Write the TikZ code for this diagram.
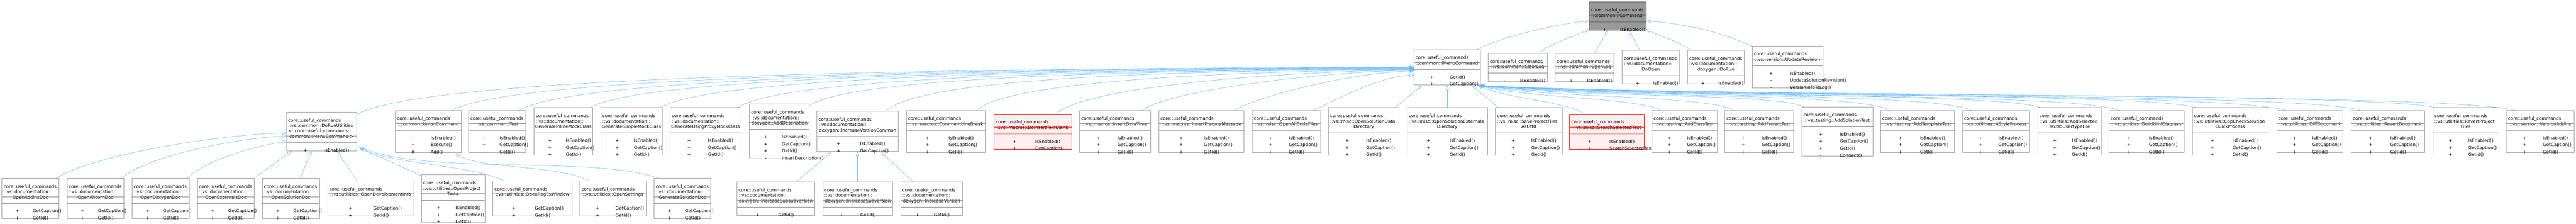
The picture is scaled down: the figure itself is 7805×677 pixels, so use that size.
\documentclass[tikz,border=0pt]{standalone}
\usepackage{fontspec}
\setmainfont{DejaVu Sans}
\usetikzlibrary{arrows.meta,calc}
\pgfdeclarelayer{bg}
\pgfsetlayers{bg,main}
\definecolor{edgeblue}{HTML}{63B8FF}
\definecolor{bordergray}{HTML}{A0A0A0}
\definecolor{sepgray}{HTML}{8C8C8C}
\definecolor{redborder}{HTML}{FF0000}
\definecolor{redfill}{HTML}{FFF0F0}
\definecolor{redsep}{HTML}{FF7A7A}
\definecolor{topfill}{HTML}{999999}
\definecolor{topborder}{HTML}{666666}
\newcommand\clsfont{\fontsize{13.5}{16}\selectfont}
\newlength\mwA
\newlength\mwMax
\tikzset{
  nbox/.style={rectangle, draw=bordergray, fill=white, line width=1.3pt, inner sep=0pt, outer sep=0pt},
  rbox/.style={rectangle, draw=redborder, fill=redfill, line width=1.1pt, inner sep=0pt, outer sep=0pt},
  gbox/.style={rectangle, draw=topborder, fill=topfill, line width=1.1pt, inner sep=0pt, outer sep=0pt},
  nsepA/.style={draw=sepgray, line width=1.1pt},
  nsepB/.style={draw=sepgray, line width=1.3pt},
  rsepA/.style={draw=redborder, line width=1pt},
  rsepB/.style={draw=redsep, line width=1.5pt},
  gsepA/.style={draw=topborder, line width=1pt},
  gsepB/.style={draw=topborder, line width=1pt},
  txt/.style={font=\clsfont, inner sep=0pt, text=black},
  inh/.style={draw=edgeblue, line width=0.9pt, -{Triangle[open,length=13pt,width=10pt]}},
}
% #1 style (n/r/g), #2 name, #3 left, #4 right, #5 top, #6 title lines, #7 methods vis/name
\newcommand\cls[7]{%
  \foreach \ctl [count=\cti] in {#6} {\xdef\nT{\cti}}%
  \foreach \cmv/\cmn [count=\cmi] in {#7} {\xdef\nM{\cmi}}%
  \global\mwMax=0pt
  \foreach \cmv/\cmn in {#7} {\settowidth{\mwA}{\clsfont\cmn}\ifdim\mwA>\mwMax\global\mwMax=\mwA\fi}%
  \pgfmathsetmacro\cW{#4-#3}%
  \pgfmathsetmacro\cH{68.5+16.3*(\nT-1)+21.3*(\nM-1)}%
  \pgfmathsetmacro\cSA{#5+23+16.3*(\nT-1)}%
  \pgfmathsetmacro\cSB{\cSA+21}%
  \pgfmathsetmacro\cMS{(\cW-\mwMax+14.5)/2}%
  \node[#1box, minimum width=\cW pt, minimum height=\cH pt, anchor=north west] (#2) at (#3,#5) {};
  \foreach \ctl [count=\cti] in {#6} {%
    \pgfmathsetmacro\cTY{#5+29.5+16.3*(\cti-1)}%
    \ifnum\cti=\nT\relax
      \node[txt, anchor=base] (#2-t\cti) at ({(#3+#4)/2},\cTY) {\ctl};%
    \else
      \node[txt, anchor=base west] (#2-t\cti) at ({#3+5},\cTY) {\ctl};%
    \fi
  }%
  \foreach \cmv/\cmn [count=\cmi] in {#7} {%
    \pgfmathsetmacro\cMY{\cSB+27.5+21.3*(\cmi-1)}%
    \node[txt, anchor=base] (#2-v\cmi) at ({#3+\cMS/2},\cMY) {\cmv};%
    \node[txt, anchor=base west] (#2-m\cmi) at ({#3+\cMS},\cMY) {\cmn};%
  }%
  \draw[#1sepA] (#2.west |- 0,\cSA) -- (#2.east |- 0,\cSA);
  \draw[#1sepB] (#2.west |- 0,\cSB) -- (#2.east |- 0,\cSB);
}
% edges to the left side of IMenu: #1 start, #2 sx, #3 sy, #4 end y
\newcommand\edgeL[4]{%
  \pgfmathsetmacro\eDD{4284-#2}%
  \pgfmathsetmacro\eFK{min(1,\eDD/1500)}%
  \pgfmathsetmacro\eAx{0.06*\eDD+20}%
  \pgfmathsetmacro\eAy{(#4+15-#3)*\eFK}%
  \pgfmathsetmacro\eBx{-0.35*\eDD}%
  \draw[inh] #1 .. controls +(\eAx,\eAy) and +(\eBx,3) .. (IMenu.west |- 0,#4);%
}
% edges to the bottom right corner of IMenu: #1 start, #2 sx, #3 sy, #4 dx, #5 dy
\newcommand\edgeR[5]{%
  \pgfmathsetmacro\eDD{#2-4486}%
  \pgfmathsetmacro\eFK{min(1,0.3+\eDD/1500)}%
  \pgfmathsetmacro\eAx{-(0.06*\eDD+20)}%
  \pgfmathsetmacro\eAy{(278-#3)*\eFK}%
  \pgfmathsetmacro\eBx{0.25*\eDD}%
  \pgfmathsetmacro\eBy{295-256-#5}%
  \draw[inh] #1 .. controls +(\eAx,\eAy) and +(\eBx,\eBy) .. ($(IMenu.south east)+(#4,#5)$);%
}
\begin{document}
\begin{tikzpicture}[x=1pt,y=-1pt]
\useasboundingbox (0,0) rectangle (7805,677);
% row 1
\cls{g}{IC}{4815}{4988}{6}{core::useful\_commands,::common::ICommand}{+/IsEnabled()}
% row 2
\cls{n}{IMenu}{4284}{4486}{150}{core::useful\_commands,::common::IMenuCommand}{+/GetId(),+/GetCaption()}
\cls{n}{CLG}{4509}{4688}{161}{core::useful\_commands,::vs::common::ClearLog}{+/IsEnabled()}
\cls{n}{OLG}{4712}{4890}{161}{core::useful\_commands,::vs::common::OpenLog}{+/IsEnabled()}
\cls{n}{DOP}{4915}{5088}{152}{core::useful\_commands,::vs::documentation::,DoOpen}{+/IsEnabled()}
\cls{n}{DRN}{5113}{5285}{152}{core::useful\_commands,::vs::documentation::,doxygen::DoRun}{+/IsEnabled()}
\cls{n}{UPR}{5309}{5523}{139}{core::useful\_commands,::vs::version::UpdateRevision}{+/IsEnabled(),-/UpdateSolutionRevision(),-/VersionInfoToLog()}
% row 3
\cls{n}{DRU}{868}{1081}{339}{core::useful\_commands,::vs::common::DoRunUtilities,<::core::useful\_commands::,common::IMenuCommand >}{+/IsEnabled()}
\cls{n}{UC}{1198}{1397}{334}{core::useful\_commands,::common::UnionCommand}{+/IsEnabled(),+/Execute(),\#/Add()}
\cls{n}{TST}{1420}{1593}{334}{core::useful\_commands,::vs::common::Test}{+/IsEnabled(),+/GetCaption(),+/GetId()}
\cls{n}{GIM}{1618}{1796}{326}{core::useful\_commands,::vs::documentation::,GenerateInlineMockClass}{+/IsEnabled(),+/GetCaption(),+/GetId()}
\cls{n}{GSM}{1820}{2006}{326}{core::useful\_commands,::vs::documentation::,GenerateSimpleMockClass}{+/IsEnabled(),+/GetCaption(),+/GetId()}
\cls{n}{GUP}{2030}{2246}{326}{core::useful\_commands,::vs::documentation::,GenerateUsingProxyMockClass}{+/IsEnabled(),+/GetCaption(),+/GetId()}
\cls{n}{ADD}{2271}{2452}{315}{core::useful\_commands,::vs::documentation::,doxygen::AddDescription}{+/IsEnabled(),+/GetCaption(),+/GetId(),-/InsertDescription()}
\cls{n}{IVC}{2475}{2722}{336}{core::useful\_commands,::vs::documentation::,doxygen::IncreaseVersionCommon}{+/IsEnabled(),+/GetCaption()}
\cls{n}{CLB}{2746}{2987}{334}{core::useful\_commands,::vs::macros::CommentLineBreak}{+/IsEnabled(),+/GetCaption(),+/GetId()}
\cls{r}{DIT}{3012}{3247}{345}{core::useful\_commands,::vs::macros::DoInsertTextBlank}{+/IsEnabled(),+/GetCaption()}
\cls{n}{IDT}{3271}{3486}{334}{core::useful\_commands,::vs::macros::InsertDataTime}{+/IsEnabled(),+/GetCaption(),+/GetId()}
\cls{n}{IPM}{3511}{3769}{334}{core::useful\_commands,::vs::macros::InsertPragmaMessage}{+/IsEnabled(),+/GetCaption(),+/GetId()}
\cls{n}{OAC}{3794}{4001}{334}{core::useful\_commands,::vs::misc::OpenAllCodeFiles}{+/IsEnabled(),+/GetCaption(),+/GetId()}
\cls{n}{OSD}{4025}{4239}{326}{core::useful\_commands,::vs::misc::OpenSolutionData,Directory}{+/IsEnabled(),+/GetCaption(),+/GetId()}
\cls{n}{OSE}{4263}{4507}{326}{core::useful\_commands,::vs::misc::OpenSolutionExternals,Directory}{+/IsEnabled(),+/GetCaption(),+/GetId()}
\cls{n}{SPF}{4531}{4733}{326}{core::useful\_commands,::vs::misc::SaveProjectFiles,AsUtf8}{+/IsEnabled(),+/GetCaption(),+/GetId()}
\cls{r}{SST}{4756}{4982}{345}{core::useful\_commands,::vs::misc::SearchSelectedText}{+/IsEnabled(),+/SearchSelectedText()}
\cls{n}{ACT}{5005}{5203}{334}{core::useful\_commands,::vs::testing::AddClassTest}{+/IsEnabled(),+/GetCaption(),+/GetId()}
\cls{n}{APT}{5226}{5435}{334}{core::useful\_commands,::vs::testing::AddProjectTest}{+/IsEnabled(),+/GetCaption(),+/GetId()}
\cls{n}{AST}{5459}{5675}{323}{core::useful\_commands,::vs::testing::AddSolutionTest}{+/IsEnabled(),+/GetCaption(),+/GetId(),-/Connect()}
\cls{n}{ATT}{5698}{5922}{334}{core::useful\_commands,::vs::testing::AddTemplateTest}{+/IsEnabled(),+/GetCaption(),+/GetId()}
\cls{n}{ASP}{5946}{6149}{334}{core::useful\_commands,::vs::utilities::AStyleProcess}{+/IsEnabled(),+/GetCaption(),+/GetId()}
\cls{n}{ASU}{6174}{6366}{326}{core::useful\_commands,::vs::utilities::AddSelected,TextToUsertypeFile}{+/IsEnabled(),+/GetCaption(),+/GetId()}
\cls{n}{BUD}{6390}{6617}{334}{core::useful\_commands,::vs::utilities::BuildUmlDiagram}{+/IsEnabled(),+/GetCaption(),+/GetId()}
\cls{n}{CCS}{6642}{6872}{326}{core::useful\_commands,::vs::utilities::CppCheckSolution,QuickProcess}{+/IsEnabled(),+/GetCaption(),+/GetId()}
\cls{n}{DIF}{6898}{7099}{334}{core::useful\_commands,::vs::utilities::DiffDocument}{+/IsEnabled(),+/GetCaption(),+/GetId()}
\cls{n}{RVD}{7124}{7346}{334}{core::useful\_commands,::vs::utilities::RevertDocument}{+/IsEnabled(),+/GetCaption(),+/GetId()}
\cls{n}{RPF}{7371}{7571}{326}{core::useful\_commands,::vs::utilities::RevertProject,Files}{+/IsEnabled(),+/GetCaption(),+/GetId()}
\cls{n}{VAD}{7594}{7800}{334}{core::useful\_commands,::vs::version::VersionAddins}{+/IsEnabled(),+/GetCaption(),+/GetId()}
% row 4
\cls{n}{OAD}{6}{178}{539}{core::useful\_commands,::vs::documentation::,OpenAddinsDoc}{+/GetCaption(),+/GetId()}
\cls{n}{OAL}{203}{376}{539}{core::useful\_commands,::vs::documentation::,OpenAlicornDoc}{+/GetCaption(),+/GetId()}
\cls{n}{ODX}{400}{573}{539}{core::useful\_commands,::vs::documentation::,OpenDoxygenDoc}{+/GetCaption(),+/GetId()}
\cls{n}{OEX}{598}{770}{539}{core::useful\_commands,::vs::documentation::,OpenExternalsDoc}{+/GetCaption(),+/GetId()}
\cls{n}{OSO}{795}{968}{539}{core::useful\_commands,::vs::documentation::,OpenSolutionDoc}{+/GetCaption(),+/GetId()}
\cls{n}{ODI}{993}{1254}{547}{core::useful\_commands,::vs::utilities::OpenDevelopmentInfo}{+/GetCaption(),+/GetId()}
\cls{n}{OPT}{1277}{1469}{529}{core::useful\_commands,::vs::utilities::OpenProject,Tasks}{+/IsEnabled(),+/GetCaption(),+/GetId()}
\cls{n}{ORX}{1493}{1733}{547}{core::useful\_commands,::vs::utilities::OpenRegExWindow}{+/GetCaption(),+/GetId()}
\cls{n}{OST}{1757}{1958}{547}{core::useful\_commands,::vs::utilities::OpenSettings}{+/GetCaption(),+/GetId()}
\cls{n}{GSD}{1982}{2154}{539}{core::useful\_commands,::vs::documentation::,GenerateSolutionDoc}{+/GetCaption(),+/GetId()}
\cls{n}{ISS}{2233}{2468}{550}{core::useful\_commands,::vs::documentation::,doxygen::IncreaseSubsubversion}{+/GetId()}
\cls{n}{ISV}{2493}{2705}{550}{core::useful\_commands,::vs::documentation::,doxygen::IncreaseSubversion}{+/GetId()}
\cls{n}{IVN}{2729}{2916}{550}{core::useful\_commands,::vs::documentation::,doxygen::IncreaseVersion}{+/GetId()}

\begin{pgfonlayer}{bg}
\fill[white] (0,0) rectangle (7805,677);
% to ICommand
\draw[inh] ($(IMenu.north east)+(-11,0)$) .. controls +(65,-35) and +(-115,12) .. ($(IC.north west)+(0,57)$);
\draw[inh] (4663,0 |- CLG.north) .. controls +(30,-28) and +(-45,22) .. ($(IC.north west)+(0,82)$);
\draw[inh] (4830,0 |- OLG.north) -- ($(IC.south west)+(57,1)$);
\draw[inh] (4968,0 |- DOP.north) -- ($(IC.south west)+(120,1)$);
\draw[inh] (5123,0 |- DRN.north) .. controls +(-30,-25) and +(40,22) .. ($(IC.south east)+(0,-3)$);
\draw[inh] ($(UPR.north west)+(0,2)$) .. controls +(-100,-50) and +(92,7) .. ($(IC.north east)+(0,57)$);
% to IMenuCommand, left side
\edgeL{($(DRU.north east)+(0,8)$)}{1081}{347}{203}
\edgeL{(1370,0 |- UC.north)}{1370}{334}{204}
\edgeL{(1574,0 |- TST.north)}{1574}{334}{205}
\edgeL{(1788,0 |- GIM.north)}{1788}{326}{206}
\edgeL{(2001,0 |- GSM.north)}{2001}{326}{207}
\edgeL{(2235,0 |- GUP.north)}{2235}{326}{208}
\edgeL{($(ADD.north east)+(0,5)$)}{2452}{320}{209}
\edgeL{(2684,0 |- IVC.north)}{2684}{336}{210}
\edgeL{(2959,0 |- CLB.north)}{2959}{334}{211}
\edgeL{(3200,0 |- DIT.north)}{3200}{345}{212}
\edgeL{(3461,0 |- IDT.north)}{3461}{334}{213}
\edgeL{(3741,0 |- IPM.north)}{3741}{334}{215}
\edgeL{(3981,0 |- OAC.north)}{3981}{334}{227}
% to IMenuCommand, bottom
\draw[inh] (4226,0 |- OSD.north) -- ($(IMenu.south west)+(23,3)$);
\draw[inh] (IMenu.south |- OSE.north) -- ($(IMenu.south)+(0,3)$);
\draw[inh] (4540,0 |- SPF.north) -- ($(IMenu.south east)+(-25,3)$);
% to IMenuCommand, bottom right
\edgeR{(4800,0 |- SST.north)}{4800}{345}{-8}{2}
\edgeR{(5030,0 |- ACT.north)}{5030}{334}{-7}{2}
\edgeR{(5252,0 |- APT.north)}{5252}{334}{-6}{3}
\edgeR{(5464,0 |- AST.north)}{5464}{323}{-6}{2}
\edgeR{(5728,0 |- ATT.north)}{5728}{334}{-5}{3}
\edgeR{(5973,0 |- ASP.north)}{5973}{334}{-5}{2}
\edgeR{(6185,0 |- ASU.north)}{6185}{326}{-4}{3}
\edgeR{(6420,0 |- BUD.north)}{6420}{334}{-4}{2}
\edgeR{(6656,0 |- CCS.north)}{6656}{326}{-3}{3}
\edgeR{(6923,0 |- DIF.north)}{6923}{334}{-3}{2}
\edgeR{(7152,0 |- RVD.north)}{7152}{334}{-2}{3}
\edgeR{(7382,0 |- RPF.north)}{7382}{326}{-2}{2}
\edgeR{(7621,0 |- VAD.north)}{7621}{334}{-1}{3}
% to DoRunUtilities
\draw[inh] (170,0 |- OAD.north) .. controls +(130,-79) and +(-168,3) .. ($(DRU.north west)+(0,63)$);
\draw[inh] (367,0 |- OAL.north) .. controls +(83,-69) and +(-148,7) .. ($(DRU.north west)+(0,72)$);
\draw[inh] (568,0 |- ODX.north) .. controls +(62,-59) and +(-88,12) .. ($(DRU.north west)+(0,89)$);
\draw[inh] (770,0 |- OEX.north) -- ($(DRU.south west)+(15,1)$);
\draw[inh] (910,0 |- OSO.north) -- ($(DRU.south west)+(76,1)$);
\draw[inh] (1082,0 |- ODI.north) -- ($(DRU.south west)+(154,1)$);
\draw[inh] ($(OPT.north west)+(0,3)$) -- ($(DRU.south east)+(9,-9)$);
\draw[inh] (1526,0 |- ORX.north) .. controls +(-86,-47) and +(92,50) .. ($(DRU.south east)+(7,-11)$);
\draw[inh] (1994,0 |- GSD.north) .. controls +(-194,-69) and +(213,87) .. ($(DRU.south east)+(6,-13)$);
% to UnionCommand
\draw[inh] (1785,0 |- OST.north) .. controls +(-85,-47) and +(71,47) .. ($(UC.south west)+(181,2)$);
% to IncreaseVersionCommon
\draw[inh] (2413,0 |- ISS.north) -- ($(IVC.south west)+(44,1)$);
\draw[inh] (2598,0 |- ISV.north) -- (2598,0 |- IVC.south);
\draw[inh] (2766,0 |- IVN.north) -- ($(IVC.south west)+(195,1)$);
\end{pgfonlayer}
\end{tikzpicture}
\end{document}
